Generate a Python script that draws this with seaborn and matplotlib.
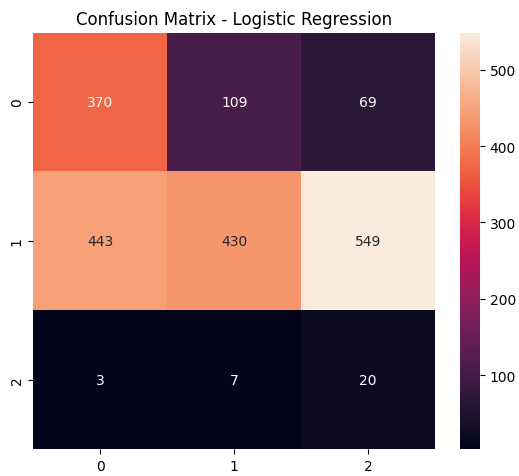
import numpy as np
import matplotlib
matplotlib.use("Agg")
import matplotlib.pyplot as plt
import seaborn as sns

# Confusion matrix counts (rows: true class, columns: predicted class)
row_0 = [370, 109, 69]
row_1 = [443, 430, 549]
row_2 = [3, 7, 20]
class_labels = ["0", "1", "2"]

cm = np.array([row_0, row_1, row_2])

fig = plt.figure(figsize=(5.19, 4.77), dpi=100)
ax = fig.add_axes([0.0645, 0.0566, 0.7736, 0.873])
cax = fig.add_axes([0.886, 0.0566, 0.0385, 0.873])

sns.heatmap(cm, annot=True, fmt="d", ax=ax, cbar_ax=cax,
            xticklabels=class_labels, yticklabels=class_labels)
ax.set_title("Confusion Matrix - Logistic Regression", fontsize=12)

fig.savefig("out.png", dpi=100)
